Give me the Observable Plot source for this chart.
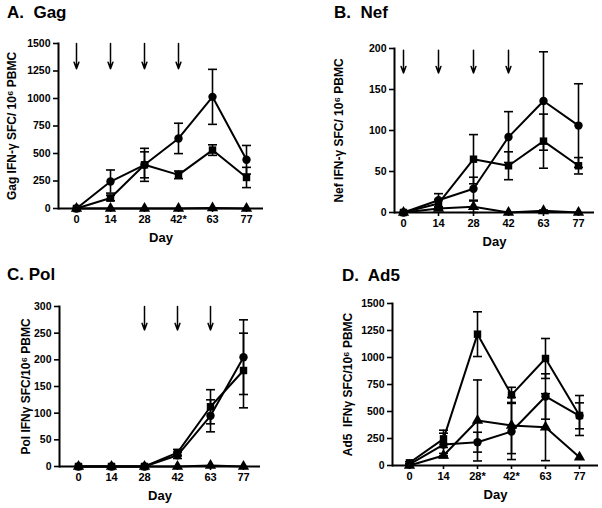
<!DOCTYPE html>
<html><head><meta charset="utf-8">
<script src="https://cdn.jsdelivr.net/npm/d3@7"></script>
<script src="https://cdn.jsdelivr.net/npm/@observablehq/plot@0.6"></script>
<style>
body{margin:0;background:#fff;}
#wrap{position:relative;width:602px;height:508px;font-family:"Liberation Sans",Arial,sans-serif;background:#fff;}
.panel{position:absolute;}
.title{position:absolute;font-weight:bold;font-size:17px;line-height:17px;white-space:pre;color:#000;}
</style></head><body><div id="wrap"></div>
<script>
// ---- data ----
const days = [0, 14, 28, 42, 63, 77];
const symbols = ["circle", "square", "triangle"];

// A. Gag
const gagDayLabels = ["0", "14", "28", "42*", "63", "77"];
const gagTicks = [0, 250, 500, 750, 1000, 1250, 1500];
const gagCircle = [0, 245, 397, 637, 1015, 443];
const gagCircleErr = [0, 105, 150, 138, 250, 130];
const gagSquare = [0, 95, 397, 306, 531, 282];
const gagSquareErr = [0, 25, 118, 35, 48, 92];
const gagTriangle = [0, 0, 0, 0, 4, 0];
const gagTriangleErr = [0, 0, 0, 0, 0, 0];
const gagArrowDays = [0, 14, 28, 42];
const gagArrowFrom = 1500, gagArrowTo = 1270;

// B. Nef
const nefDayLabels = ["0", "14", "28", "42", "63", "77"];
const nefTicks = [0, 50, 100, 150, 200];
const nefCircle = [0, 15, 29, 92, 136, 106];
const nefCircleErr = [0, 8, 14, 31, 60, 51];
const nefSquare = [0, 11, 65, 57, 87, 57];
const nefSquareErr = [0, 5, 30, 17, 33, 10];
const nefTriangle = [0, 5, 7, 0, 2, 0];
const nefTriangleErr = [0, 2, 7, 0, 1, 0];
const nefArrowDays = [0, 14, 28, 42];
const nefArrowFrom = 198, nefArrowTo = 170;

// C. Pol
const polDayLabels = ["0", "14", "28", "42", "63", "77"];
const polTicks = [0, 50, 100, 150, 200, 250, 300];
const polCircle = [0, 0, 0, 21, 95, 205];
const polCircleErr = [0, 0, 0, 6, 30, 70];
const polSquare = [0, 0, 0, 26, 112, 180];
const polSquareErr = [0, 0, 0, 6, 32, 70];
const polTriangle = [0, 0, 0, 0, 2, 0];
const polTriangleErr = [0, 0, 0, 0, 0, 0];
const polArrowDays = [28, 42, 63];
const polArrowFrom = 300, polArrowTo = 256;

// D. Ad5
const ad5DayLabels = ["0", "14", "28*", "42*", "63", "77"];
const ad5Ticks = [0, 250, 500, 750, 1000, 1250, 1500];
const ad5Circle = [10, 194, 216, 315, 639, 460];
const ad5CircleErr = [5, 105, 92, 260, 210, 120];
const ad5Square = [25, 247, 1216, 654, 991, 463];
const ad5SquareErr = [10, 80, 207, 70, 185, 185];
const ad5Triangle = [0, 92, 417, 370, 355, 77];
const ad5TriangleErr = [0, 20, 375, 260, 310, 0];
const ad5ArrowDays = [];
const ad5ArrowFrom = 1500, ad5ArrowTo = 1270;

// ---- build ----
function rowsOf(values, errs, symbol) {
  return days.map((d, i) => ({day: d, value: values[i], err: errs[i], symbol}));
}
// horizontal cap symbol for error bars
const capSymbol = {draw(ctx, size) { const w = Math.sqrt(size / Math.PI); ctx.moveTo(-w, 0); ctx.lineTo(w, 0); }};

const panels = [
  {title: "A.  Gag", tx: 7, ty: 4, left: 0, top: 0,
   ml: 58, mr: 38, mt: 43, mb: 46, xr: [75, 247], ydom: [0, 1500], ticks: gagTicks,
   ylabel: "Gag IFN-γ SFC/ 10⁶ PBMC", ylx: 46, labels: gagDayLabels,
   series: [rowsOf(gagCircle, gagCircleErr, "circle"), rowsOf(gagSquare, gagSquareErr, "square"), rowsOf(gagTriangle, gagTriangleErr, "triangle")],
   arrows: gagArrowDays.map(d => ({day: d, from: gagArrowFrom, to: gagArrowTo}))},
  {title: "B.  Nef", tx: 334, ty: 4, left: 301, top: 0,
   ml: 93, mr: 8, mt: 48, mb: 42, xr: [102, 277], ydom: [0, 200], ticks: nefTicks,
   ylabel: "Nef IFN-γ SFC/ 10⁶ PBMC", ylx: 55, labels: nefDayLabels,
   series: [rowsOf(nefCircle, nefCircleErr, "circle"), rowsOf(nefSquare, nefSquareErr, "square"), rowsOf(nefTriangle, nefTriangleErr, "triangle")],
   arrows: nefArrowDays.map(d => ({day: d, from: nefArrowFrom, to: nefArrowTo}))},
  {title: "C. Pol", tx: 7, ty: 266, left: 0, top: 254,
   ml: 59, mr: 41, mt: 52, mb: 42, xr: [76, 244], ydom: [0, 300], ticks: polTicks,
   ylabel: "Pol IFNγ SFC/10⁶ PBMC", ylx: 33, labels: polDayLabels,
   series: [rowsOf(polCircle, polCircleErr, "circle"), rowsOf(polSquare, polSquareErr, "square"), rowsOf(polTriangle, polTriangleErr, "triangle")],
   arrows: polArrowDays.map(d => ({day: d, from: polArrowFrom, to: polArrowTo}))},
  {title: "D.  Ad5", tx: 342, ty: 266.5, left: 301, top: 254,
   ml: 91, mr: 4, mt: 49, mb: 43, xr: [107, 279], ydom: [0, 1500], ticks: ad5Ticks,
   ylabel: "Ad5  IFNγ SFC/10⁶ PBMC", ylx: 44, labels: ad5DayLabels,
   series: [rowsOf(ad5Circle, ad5CircleErr, "circle"), rowsOf(ad5Square, ad5SquareErr, "square"), rowsOf(ad5Triangle, ad5TriangleErr, "triangle")],
   arrows: ad5ArrowDays.map(d => ({day: d, from: ad5ArrowFrom, to: ad5ArrowTo}))}
];

const wrap = document.getElementById("wrap");
for (const p of panels) {
  const rows = p.series.flat();
  const errRows = rows.filter(d => d.err > 0);
  const chart = Plot.plot({
    width: 301, height: 254,
    marginLeft: p.ml, marginRight: p.mr, marginTop: p.mt, marginBottom: p.mb,
    style: {fontFamily: "Liberation Sans, Arial, sans-serif", fontSize: "10.5px", fontWeight: "bold", color: "#000", background: "transparent", overflow: "visible"},
    x: {type: "point", domain: days, range: p.xr, padding: 0, axis: null},
    y: {domain: p.ydom, axis: null},
    symbol: {domain: symbols, range: symbols},
    marks: [
      Plot.ruleX(errRows, {x: "day", y1: d => d.value - d.err, y2: d => d.value + d.err, strokeWidth: 1.6, stroke: "#000"}),
      Plot.dot(errRows, {x: "day", y: d => d.value + d.err, symbol: capSymbol, r: 4.5, fill: "none", stroke: "#000", strokeWidth: 1.6}),
      Plot.dot(errRows, {x: "day", y: d => d.value - d.err, symbol: capSymbol, r: 4.5, fill: "none", stroke: "#000", strokeWidth: 1.6}),
      Plot.line(rows, {x: "day", y: "value", z: "symbol", stroke: "#000", strokeWidth: 2}),
      Plot.dot(rows, {x: "day", y: "value", symbol: "symbol", r: 4.2, fill: "#000", stroke: "none"}),
      Plot.axisY({ticks: p.ticks, tickFormat: d3.format("d"), tickSize: 5, tickPadding: 3, strokeWidth: 1.6, label: null}),
      Plot.axisX({tickFormat: d => p.labels[days.indexOf(d)], tickSize: 4, tickPadding: 3, fontSize: 11, strokeWidth: 1.6, label: null}),
      Plot.frame({anchor: "left", strokeWidth: 2}),
      Plot.ruleY([p.ydom[0]], {strokeWidth: 2}),
      Plot.text([p.ylabel], {frameAnchor: "left", textAnchor: "middle", rotate: -90, dx: -p.ylx, fontSize: 12}),
      Plot.text(["Day"], {frameAnchor: "bottom", dy: 33, fontSize: 13}),
      Plot.arrow(p.arrows, {x: "day", y1: "from", y2: "to", strokeWidth: 1.5, headLength: 7, headAngle: 40})
    ]
  });
  chart.classList.add("panel");
  chart.style.left = p.left + "px";
  chart.style.top = p.top + "px";
  chart.style.position = "absolute";
  wrap.appendChild(chart);
  const t = document.createElement("div");
  t.className = "title";
  t.textContent = p.title;
  t.style.left = p.tx + "px";
  t.style.top = p.ty + "px";
  wrap.appendChild(t);
}
</script></body></html>
